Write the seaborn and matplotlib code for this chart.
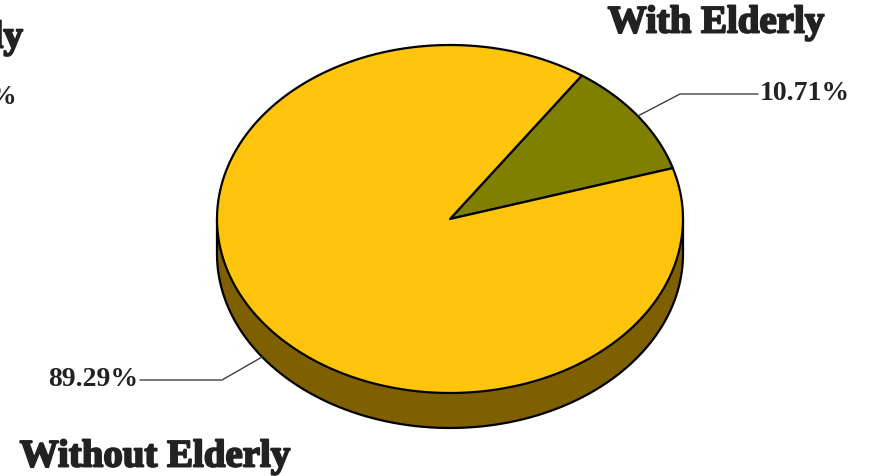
import numpy as np
import matplotlib
matplotlib.use("Agg")
import matplotlib.pyplot as plt
from matplotlib.patches import Polygon
import matplotlib.patheffects as pe
import seaborn as sns

# Share of households, with and without elderly members
categories = ["With Elderly", "Without Elderly"]
shares = [10.71, 89.29]
top_colors = ["#808000", "#FFC40C"]
side_colors = ["#404000", "#7F6000"]

sns.set_theme(style="white")
plt.rcParams["font.family"] = ["Liberation Serif", "DejaVu Serif"]

W, H = 869, 476
fig = plt.figure(figsize=(W / 100, H / 100), dpi=100)
ax = fig.add_axes([0, 0, 1, 1])
ax.set_xlim(0, W)
ax.set_ylim(H, 0)
ax.axis("off")

# Tilted pie geometry (screen units)
cx, cy = 450, 219
ra, rb = 233, 174
depth = 35
start = 17.0  # degrees, counter-clockwise


def pt(t_deg, dz=0.0):
    t = np.radians(t_deg)
    return cx + ra * np.cos(t), cy - rb * np.sin(t) + dz


def arc(t0, t1, dz=0.0, n=200):
    ts = np.linspace(t0, t1, n)
    xs, ys = pt(ts, dz)
    return np.column_stack([xs, ys])


total = float(sum(shares))
bounds = []
a0 = start
for v in shares:
    a1 = a0 + v / total * 360.0
    bounds.append((a0, a1))
    a0 = a1

# Side walls: only the front half (180..360 deg) is visible
for (t0, t1), sc in zip(bounds, side_colors):
    for k in (-1, 0, 1):
        lo = max(t0, 180 + 360 * k)
        hi = min(t1, 360 + 360 * k)
        if hi > lo:
            top = arc(lo, hi)
            bot = arc(hi, lo, depth)
            ax.add_patch(Polygon(np.vstack([top, bot]), closed=True,
                                 facecolor=sc, edgecolor="none", zorder=1))

# Outline of the side
ax.plot(*arc(180, 360, depth).T, color="black", lw=1.6, zorder=2)
for t in (180, 360):
    (x0, y0), (x1, y1) = pt(t), pt(t, depth)
    ax.plot([x0, x1], [y0, y1], color="black", lw=1.6, zorder=2)

# Top faces
for (t0, t1), tc in zip(bounds, top_colors):
    poly = np.vstack([[cx, cy], arc(t0, t1)])
    ax.add_patch(Polygon(poly, closed=True, facecolor=tc,
                         edgecolor="black", lw=1.6, joinstyle="round",
                         zorder=3))

# Value labels with leader lines
label_kw = dict(fontsize=20, fontweight="bold", color="#222222", va="center")
layout = {
    0: dict(elbow=(680, 94), end=(758, 94), text=(760, 94), ha="left"),
    1: dict(elbow=(222, 380), end=(140, 380), text=(138, 380), ha="right"),
}
for i, ((t0, t1), v) in enumerate(zip(bounds, shares)):
    mid = (t0 + t1) / 2.0
    front = np.sin(np.radians(mid)) < 0
    ax_, ay_ = pt(mid, depth if front else 0.0)
    lay = layout[i]
    ax.plot([ax_, lay["elbow"][0], lay["end"][0]],
            [ay_, lay["elbow"][1], lay["end"][1]],
            color="#404040", lw=1.0, zorder=4)
    ax.text(*lay["text"], f"{v:.2f}%", ha=lay["ha"], **label_kw)

# Category titles in a heavy display weight
heavy = [pe.withStroke(linewidth=1.4, foreground="#222222")]
title_kw = dict(fontsize=28, fontweight="bold", color="#222222",
                ha="center", va="center", path_effects=heavy)
ax.text(716, 23, categories[0], **title_kw)
ax.text(155, 457, categories[1], **title_kw)

# Edge of the neighbouring panel
ax.text(23, 38, "Elderly", fontsize=28, fontweight="bold", color="#222222",
        ha="right", va="center", path_effects=heavy)
ax.text(16, 97, "%", fontsize=20, fontweight="bold", color="#222222",
        ha="right", va="center")

fig.savefig("out.png", dpi=100)
